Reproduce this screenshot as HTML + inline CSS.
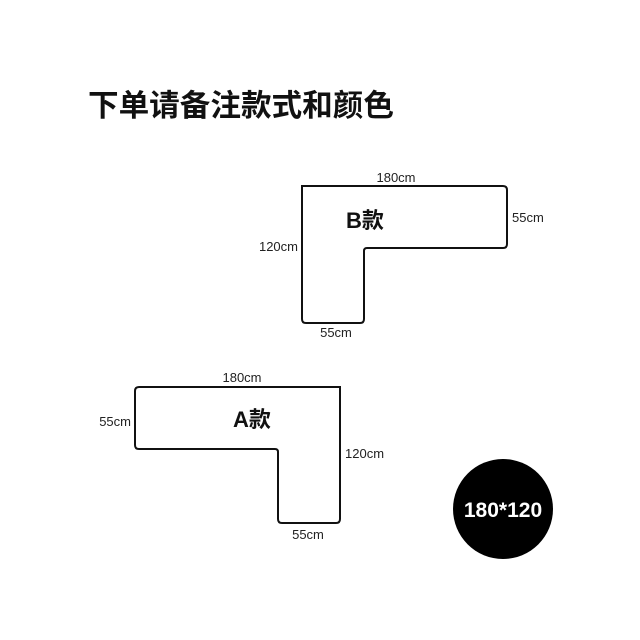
<!DOCTYPE html>
<html><head><meta charset="utf-8"><style>
html,body{margin:0;padding:0;background:#fff;width:640px;height:640px;overflow:hidden}
</style></head><body>
<svg width="640" height="640" viewBox="0 0 640 640" xmlns="http://www.w3.org/2000/svg" font-family="Liberation Sans, Noto Sans CJK SC, sans-serif">
<text x="88" y="116" font-size="30.6" font-weight="bold" fill="#111" font-family="Noto Sans CJK SC, sans-serif">下单请备注款式和颜色</text>
<path d="M302,186 H503 Q507,186 507,190 V244 Q507,248 503,248 H367 Q364,248 364,251 V319 Q364,323 360,323 H306 Q302,323 302,319 Z" fill="none" stroke="#111" stroke-width="2"/>
<text x="396" y="182" font-size="13" text-anchor="middle" fill="#222">180cm</text>
<text x="512" y="222" font-size="13" fill="#222">55cm</text>
<text x="298" y="251" font-size="13" text-anchor="end" fill="#222">120cm</text>
<text x="336" y="337" font-size="13" text-anchor="middle" fill="#222">55cm</text>
<text x="346" y="228" font-size="22" font-weight="bold" fill="#111">B<tspan font-family="Noto Sans CJK SC, sans-serif">款</tspan></text>
<path d="M139,387 H340 V519 Q340,523 336,523 H282 Q278,523 278,519 V452 Q278,449 275,449 H139 Q135,449 135,445 V391 Q135,387 139,387 Z" fill="none" stroke="#111" stroke-width="2"/>
<text x="242" y="382" font-size="13" text-anchor="middle" fill="#222">180cm</text>
<text x="131" y="426" font-size="13" text-anchor="end" fill="#222">55cm</text>
<text x="345" y="458" font-size="13" fill="#222">120cm</text>
<text x="308" y="539" font-size="13" text-anchor="middle" fill="#222">55cm</text>
<text x="233" y="427" font-size="22" font-weight="bold" fill="#111">A<tspan font-family="Noto Sans CJK SC, sans-serif">款</tspan></text>
<circle cx="503" cy="509" r="50" fill="#000"/>
<text x="503" y="517" font-size="21" font-weight="bold" fill="#fff" text-anchor="middle">180*120</text>
</svg>
</body></html>
